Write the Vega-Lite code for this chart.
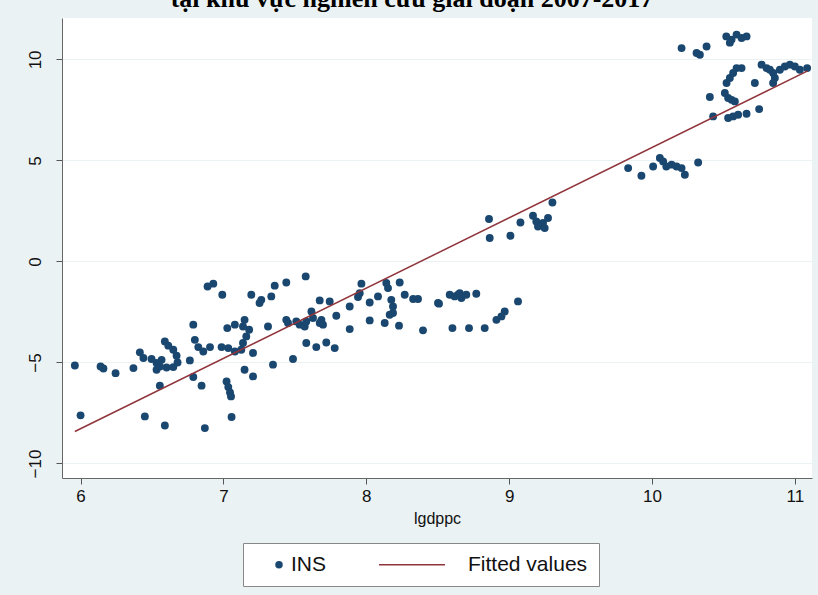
{
  "$schema": "https://vega.github.io/schema/vega-lite/v6.json",
  "width": 750,
  "height": 460,
  "autosize": "none",
  "padding": {"left": 62, "top": 18, "right": 6, "bottom": 117},
  "background": "#EAF2F3",
  "config": {
    "view": {"fill": "white", "stroke": null},
    "font": "Liberation Sans"
  },
  "title": {
    "text": "tại khu vực nghiên cứu giai đoạn 2007-2017",
    "font": "Liberation Serif",
    "fontSize": 26,
    "fontWeight": "bold",
    "color": "black",
    "anchor": "middle",
    "baseline": "alphabetic",
    "offset": 6,
    "dy": 21,
    "dx": -25
  },
  "datasets": {
    "scatter": [
      {"lgdppc": 5.96, "INS": -5.15}, {"lgdppc": 6.0, "INS": -7.62}, {"lgdppc": 6.14, "INS": -5.2}, {"lgdppc": 6.16, "INS": -5.3},
      {"lgdppc": 6.245, "INS": -5.53}, {"lgdppc": 6.37, "INS": -5.28}, {"lgdppc": 6.415, "INS": -4.5}, {"lgdppc": 6.44, "INS": -4.78},
      {"lgdppc": 6.45, "INS": -7.67}, {"lgdppc": 6.497, "INS": -4.83}, {"lgdppc": 6.532, "INS": -5.03}, {"lgdppc": 6.555, "INS": -5.2},
      {"lgdppc": 6.532, "INS": -5.36}, {"lgdppc": 6.59, "INS": -3.96}, {"lgdppc": 6.614, "INS": -4.17}, {"lgdppc": 6.649, "INS": -4.37},
      {"lgdppc": 6.672, "INS": -4.67}, {"lgdppc": 6.679, "INS": -5.0}, {"lgdppc": 6.649, "INS": -5.23}, {"lgdppc": 6.602, "INS": -5.25},
      {"lgdppc": 6.567, "INS": -4.87}, {"lgdppc": 6.555, "INS": -6.15}, {"lgdppc": 6.59, "INS": -8.12}, {"lgdppc": 6.765, "INS": -4.9},
      {"lgdppc": 6.789, "INS": -3.13}, {"lgdppc": 6.8, "INS": -3.88}, {"lgdppc": 6.789, "INS": -5.72}, {"lgdppc": 6.847, "INS": -6.15},
      {"lgdppc": 6.824, "INS": -4.24}, {"lgdppc": 6.859, "INS": -4.46}, {"lgdppc": 6.906, "INS": -4.24}, {"lgdppc": 6.87, "INS": -8.25},
      {"lgdppc": 6.889, "INS": -1.24}, {"lgdppc": 6.929, "INS": -1.1}, {"lgdppc": 6.992, "INS": -1.65}, {"lgdppc": 6.987, "INS": -4.24},
      {"lgdppc": 7.034, "INS": -4.29}, {"lgdppc": 7.08, "INS": -4.46}, {"lgdppc": 7.022, "INS": -5.94}, {"lgdppc": 7.034, "INS": -6.22},
      {"lgdppc": 7.046, "INS": -6.49}, {"lgdppc": 7.053, "INS": -6.68}, {"lgdppc": 7.057, "INS": -7.7}, {"lgdppc": 7.027, "INS": -3.3},
      {"lgdppc": 7.08, "INS": -3.13}, {"lgdppc": 7.148, "INS": -2.89}, {"lgdppc": 7.137, "INS": -3.22}, {"lgdppc": 7.18, "INS": -3.38},
      {"lgdppc": 7.16, "INS": -3.71}, {"lgdppc": 7.137, "INS": -4.04}, {"lgdppc": 7.125, "INS": -4.37}, {"lgdppc": 7.207, "INS": -4.53},
      {"lgdppc": 7.148, "INS": -5.36}, {"lgdppc": 7.207, "INS": -5.69}, {"lgdppc": 7.347, "INS": -5.11}, {"lgdppc": 7.487, "INS": -4.83},
      {"lgdppc": 7.195, "INS": -1.65}, {"lgdppc": 7.265, "INS": -1.9}, {"lgdppc": 7.253, "INS": -2.06}, {"lgdppc": 7.335, "INS": -1.73},
      {"lgdppc": 7.359, "INS": -1.2}, {"lgdppc": 7.44, "INS": -1.04}, {"lgdppc": 7.576, "INS": -0.74}, {"lgdppc": 7.312, "INS": -3.22},
      {"lgdppc": 7.44, "INS": -2.89}, {"lgdppc": 7.452, "INS": -3.05}, {"lgdppc": 7.51, "INS": -2.97}, {"lgdppc": 7.534, "INS": -3.13},
      {"lgdppc": 7.569, "INS": -3.22}, {"lgdppc": 7.58, "INS": -2.97}, {"lgdppc": 7.616, "INS": -2.48}, {"lgdppc": 7.627, "INS": -2.8},
      {"lgdppc": 7.674, "INS": -1.93}, {"lgdppc": 7.686, "INS": -2.89}, {"lgdppc": 7.697, "INS": -3.13}, {"lgdppc": 7.674, "INS": -3.05},
      {"lgdppc": 7.744, "INS": -1.98}, {"lgdppc": 7.79, "INS": -2.69}, {"lgdppc": 7.58, "INS": -4.04}, {"lgdppc": 7.65, "INS": -4.24},
      {"lgdppc": 7.72, "INS": -4.01}, {"lgdppc": 7.779, "INS": -4.29}, {"lgdppc": 7.884, "INS": -2.23}, {"lgdppc": 7.884, "INS": -3.35},
      {"lgdppc": 7.966, "INS": -1.1}, {"lgdppc": 7.954, "INS": -1.57}, {"lgdppc": 7.942, "INS": -1.76}, {"lgdppc": 8.024, "INS": -2.03},
      {"lgdppc": 8.082, "INS": -1.73}, {"lgdppc": 8.14, "INS": -1.07}, {"lgdppc": 8.152, "INS": -1.32}, {"lgdppc": 8.234, "INS": -1.04},
      {"lgdppc": 8.024, "INS": -2.92}, {"lgdppc": 8.129, "INS": -3.05}, {"lgdppc": 8.175, "INS": -1.9}, {"lgdppc": 8.187, "INS": -2.23},
      {"lgdppc": 8.187, "INS": -2.55}, {"lgdppc": 8.164, "INS": -2.64}, {"lgdppc": 8.229, "INS": -3.18}, {"lgdppc": 8.269, "INS": -1.65},
      {"lgdppc": 8.328, "INS": -1.86}, {"lgdppc": 8.362, "INS": -1.86}, {"lgdppc": 8.397, "INS": -3.41}, {"lgdppc": 8.502, "INS": -2.06},
      {"lgdppc": 8.509, "INS": -2.09}, {"lgdppc": 8.584, "INS": -1.65}, {"lgdppc": 8.619, "INS": -1.73}, {"lgdppc": 8.642, "INS": -1.65},
      {"lgdppc": 8.666, "INS": -1.81}, {"lgdppc": 8.654, "INS": -1.57}, {"lgdppc": 8.7, "INS": -1.65}, {"lgdppc": 8.77, "INS": -1.6},
      {"lgdppc": 8.603, "INS": -3.3}, {"lgdppc": 8.719, "INS": -3.3}, {"lgdppc": 8.829, "INS": -3.3}, {"lgdppc": 8.911, "INS": -2.89},
      {"lgdppc": 8.946, "INS": -2.72}, {"lgdppc": 8.969, "INS": -2.48}, {"lgdppc": 9.062, "INS": -1.98}, {"lgdppc": 8.859, "INS": 2.1},
      {"lgdppc": 8.864, "INS": 1.16}, {"lgdppc": 9.009, "INS": 1.27}, {"lgdppc": 9.079, "INS": 1.93}, {"lgdppc": 9.167, "INS": 2.26},
      {"lgdppc": 9.19, "INS": 1.98}, {"lgdppc": 9.202, "INS": 1.73}, {"lgdppc": 9.237, "INS": 1.9}, {"lgdppc": 9.272, "INS": 2.15},
      {"lgdppc": 9.249, "INS": 1.65}, {"lgdppc": 9.303, "INS": 2.92}, {"lgdppc": 9.833, "INS": 4.62}, {"lgdppc": 9.926, "INS": 4.24},
      {"lgdppc": 10.008, "INS": 4.7}, {"lgdppc": 10.055, "INS": 5.12}, {"lgdppc": 10.078, "INS": 4.95}, {"lgdppc": 10.1, "INS": 4.7},
      {"lgdppc": 10.137, "INS": 4.79}, {"lgdppc": 10.172, "INS": 4.7}, {"lgdppc": 10.207, "INS": 4.62}, {"lgdppc": 10.23, "INS": 4.29},
      {"lgdppc": 10.323, "INS": 4.9}, {"lgdppc": 10.207, "INS": 10.56}, {"lgdppc": 10.312, "INS": 10.32}, {"lgdppc": 10.335, "INS": 10.23},
      {"lgdppc": 10.382, "INS": 10.64}, {"lgdppc": 10.52, "INS": 11.14}, {"lgdppc": 10.557, "INS": 10.98}, {"lgdppc": 10.592, "INS": 11.23},
      {"lgdppc": 10.627, "INS": 11.06}, {"lgdppc": 10.662, "INS": 11.14}, {"lgdppc": 10.545, "INS": 10.83}, {"lgdppc": 10.405, "INS": 8.14},
      {"lgdppc": 10.51, "INS": 8.34}, {"lgdppc": 10.533, "INS": 8.09}, {"lgdppc": 10.557, "INS": 8.0}, {"lgdppc": 10.58, "INS": 7.92},
      {"lgdppc": 10.522, "INS": 8.83}, {"lgdppc": 10.545, "INS": 9.08}, {"lgdppc": 10.568, "INS": 9.33}, {"lgdppc": 10.592, "INS": 9.57},
      {"lgdppc": 10.627, "INS": 9.57}, {"lgdppc": 10.428, "INS": 7.18}, {"lgdppc": 10.533, "INS": 7.1}, {"lgdppc": 10.568, "INS": 7.18},
      {"lgdppc": 10.603, "INS": 7.26}, {"lgdppc": 10.662, "INS": 7.31}, {"lgdppc": 10.75, "INS": 7.54}, {"lgdppc": 10.72, "INS": 8.83},
      {"lgdppc": 10.767, "INS": 9.74}, {"lgdppc": 10.802, "INS": 9.57}, {"lgdppc": 10.825, "INS": 9.49}, {"lgdppc": 10.848, "INS": 9.33},
      {"lgdppc": 10.86, "INS": 9.08}, {"lgdppc": 10.848, "INS": 8.83}, {"lgdppc": 10.895, "INS": 9.49}, {"lgdppc": 10.93, "INS": 9.65},
      {"lgdppc": 10.965, "INS": 9.74}, {"lgdppc": 11.0, "INS": 9.65}, {"lgdppc": 11.035, "INS": 9.49}, {"lgdppc": 11.086, "INS": 9.57}
    ],
    "fitted": [
      {"lgdppc": 5.96, "fit": -8.42},
      {"lgdppc": 11.09, "fit": 9.43}
    ]
  },
  "layer": [
    {
      "data": {"name": "scatter"},
      "mark": {"type": "point", "filled": true, "size": 62, "opacity": 1},
      "encoding": {
        "x": {
          "field": "lgdppc", "type": "quantitative",
          "scale": {"domain": [5.87, 11.12], "nice": false, "zero": false},
          "axis": {
            "values": [6, 7, 8, 9, 10, 11],
            "format": "d",
            "title": "lgdppc",
            "grid": false,
            "labelFontSize": 17, "labelColor": "#111", "labelPadding": 4,
            "tickSize": 6, "tickColor": "#555", "domainColor": "#666",
            "titleFontSize": 16, "titleFontWeight": "normal", "titleColor": "#111", "titlePadding": 6
          }
        },
        "y": {
          "field": "INS", "type": "quantitative",
          "scale": {"domain": [-10.72, 12.05], "nice": false, "zero": false},
          "axis": {
            "values": [-10, -5, 0, 5, 10],
            "title": null,
            "grid": true, "gridColor": "#EAF2F3", "gridWidth": 1.2,
            "labelAngle": 270, "labelAlign": "center", "labelBaseline": "bottom",
            "labelFontSize": 17, "labelColor": "#111", "labelPadding": 12,
            "tickSize": 6, "tickColor": "#555", "domainColor": "#666"
          }
        },
        "color": {
          "datum": "INS",
          "type": "nominal",
          "scale": {"domain": ["INS", "Fitted values"], "range": ["#1A476F", "#90353B"]},
          "legend": {
            "orient": "none",
            "legendX": 181,
            "legendY": 525,
            "direction": "horizontal",
            "title": null,
            "fillColor": "white",
            "strokeColor": "#888",
            "padding": 11,
            "labelFontSize": 21,
            "labelColor": "#111",
            "symbolSize": 36,
            "columnPadding": 49,
            "encode": {
              "symbols": {
                "update": {
                  "shape": {"signal": "datum.value === 'INS' ? 'circle' : 'M0,0H22'"},
                  "fill": {"signal": "datum.value === 'INS' ? '#1A476F' : 'transparent'"},
                  "stroke": {"signal": "datum.value === 'INS' ? 'transparent' : '#90353B'"},
                  "strokeWidth": {"value": 1.5},
                  "opacity": {"value": 1},
                  "x": {"signal": "datum.value === 'INS' ? 25 : 0"}
                }
              },
              "labels": {
                "update": {
                  "x": {"signal": "datum.value === 'INS' ? 37 : 89"}
                }
              }
            }
          }
        }
      }
    },
    {
      "data": {"name": "fitted"},
      "mark": {"type": "line", "strokeWidth": 1.5},
      "encoding": {
        "x": {"field": "lgdppc", "type": "quantitative"},
        "y": {"field": "fit", "type": "quantitative"},
        "color": {
          "datum": "Fitted values",
          "type": "nominal",
          "legend": {
            "orient": "none",
            "legendX": 181,
            "legendY": 525,
            "direction": "horizontal",
            "title": null,
            "fillColor": "white",
            "strokeColor": "#888",
            "padding": 11,
            "labelFontSize": 21,
            "labelColor": "#111",
            "symbolSize": 36,
            "columnPadding": 49,
            "encode": {
              "symbols": {
                "update": {
                  "shape": {"signal": "datum.value === 'INS' ? 'circle' : 'M0,0H22'"},
                  "fill": {"signal": "datum.value === 'INS' ? '#1A476F' : 'transparent'"},
                  "stroke": {"signal": "datum.value === 'INS' ? 'transparent' : '#90353B'"},
                  "strokeWidth": {"value": 1.5},
                  "opacity": {"value": 1},
                  "x": {"signal": "datum.value === 'INS' ? 25 : 0"}
                }
              },
              "labels": {
                "update": {
                  "x": {"signal": "datum.value === 'INS' ? 37 : 89"}
                }
              }
            }
          }
        }
      }
    }
  ]
}
